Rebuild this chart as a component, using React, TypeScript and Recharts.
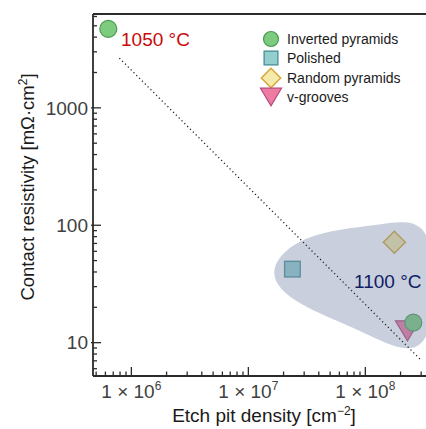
import { ScatterChart, Scatter, XAxis, YAxis, ReferenceLine, Legend } from 'recharts';

const FONT = '"Liberation Sans", Arial, Helvetica, sans-serif';

// Etch pit density [cm^-2] vs. contact resistivity [mOhm cm^2]
const SERIES_NAMES = ['Inverted pyramids', 'Polished', 'Random pyramids', 'v-grooves'];

const INVERTED_PYRAMIDS = [
  { x: 6.35e5, y: 4700 },
  { x: 2.57e8, y: 14.8 },
];
const POLISHED = [{ x: 2.38e7, y: 42.3 }];
const RANDOM_PYRAMIDS = [{ x: 1.77e8, y: 71.6 }];
const V_GROOVES = [{ x: 2.29e8, y: 12.6 }];

// dotted guide line (slope -1 in log-log)
const FIT_LINE = [
  { x: 7.9e5, y: 2650 },
  { x: 2.95e8, y: 7.2 },
];

// outline of the shaded 1100 °C group (closed spline through these)
const GROUP_1100 = [
  { x: 1.32e7, y: 39.4 },
  { x: 2.8e7, y: 86 },
  { x: 1.34e8, y: 100 },
  { x: 3.5e8, y: 120 },
  { x: 4.2e8, y: 28.2 },
  { x: 3.26e8, y: 6.5 },
  { x: 9.06e7, y: 12.9 },
  { x: 2.52e7, y: 21 },
];

const X_DOMAIN = [4.7e5, 3.3e8];
const Y_DOMAIN = [5.2, 6300];

const X_MAJOR = [1e6, 1e7, 1e8];
const X_MINOR = [
  5e5, 6e5, 7e5, 8e5, 9e5,
  2e6, 3e6, 4e6, 5e6, 6e6, 7e6, 8e6, 9e6,
  2e7, 3e7, 4e7, 5e7, 6e7, 7e7, 8e7, 9e7,
  2e8, 3e8,
];
const Y_MAJOR = [10, 100, 1000];
const Y_MINOR = [
  6, 7, 8, 9,
  20, 30, 40, 50, 60, 70, 80, 90,
  200, 300, 400, 500, 600, 700, 800, 900,
  2000, 3000, 4000, 5000, 6000,
];
const X_EXPONENTS = ['6', '7', '8'];

const AXIS_COLOR = '#2b2b2b';
const TICK_TEXT = '#404040';

const STYLES: Record<string, { fill: string; stroke: string }> = {
  'Inverted pyramids': { fill: '#7ccb7e', stroke: '#4c9a55' },
  Polished: { fill: '#94cfd0', stroke: '#4f939a' },
  'Random pyramids': { fill: '#f4eaa9', stroke: '#d6a533' },
  'v-grooves': { fill: '#ee7ba2', stroke: '#b4487a' },
};

function Marker({ name, cx, cy, scale = 1 }: { name: string; cx: number; cy: number; scale?: number }) {
  const s = STYLES[name];
  if (name === 'Inverted pyramids') {
    return <circle cx={cx} cy={cy} r={8.5 * scale} fill={s.fill} stroke={s.stroke} strokeWidth={1.2} />;
  }
  if (name === 'Polished') {
    const h = 7.8 * scale;
    return <rect x={cx - h} y={cy - h} width={2 * h} height={2 * h} fill={s.fill} stroke={s.stroke} strokeWidth={1.4} />;
  }
  if (name === 'Random pyramids') {
    const d = 11 * scale;
    return (
      <polygon
        points={`${cx},${cy - d} ${cx + d},${cy} ${cx},${cy + d} ${cx - d},${cy}`}
        fill={s.fill}
        stroke={s.stroke}
        strokeWidth={1.4}
      />
    );
  }
  const w = 12 * scale;
  const h = 10 * scale;
  return (
    <polygon
      points={`${cx - w},${cy - h} ${cx + w},${cy - h} ${cx},${cy + h}`}
      fill={s.fill}
      stroke={s.stroke}
      strokeWidth={1.2}
    />
  );
}

function XTick({ x, y, payload }: any) {
  const idx = X_MAJOR.indexOf(payload.value);
  const major = idx >= 0;
  return (
    <g>
      <line x1={x} x2={x} y1={y} y2={y - (major ? 9 : 4.5)} stroke={AXIS_COLOR} strokeWidth={1.3} />
      {major && (
        <text x={x} y={y + 22} textAnchor="middle" fontSize={19} fill={TICK_TEXT} fontFamily={FONT}>
          1 × 10
          <tspan dy={-8} fontSize={12}>
            {X_EXPONENTS[idx]}
          </tspan>
        </text>
      )}
    </g>
  );
}

function YTick({ x, y, payload }: any) {
  const major = Y_MAJOR.includes(payload.value);
  return (
    <g>
      <line x1={major ? x - 2 : x} x2={x + (major ? 8 : 4)} y1={y} y2={y} stroke={AXIS_COLOR} strokeWidth={1.3} />
      {major && (
        <text x={x - 5} y={y} dy="0.36em" textAnchor="end" fontSize={19} fill={TICK_TEXT} fontFamily={FONT}>
          {payload.value}
        </text>
      )}
    </g>
  );
}

function LegendBox() {
  return (
    <div style={{ fontFamily: FONT, fontSize: 14, color: '#1a1a1a' }}>
      {SERIES_NAMES.map((name) => (
        <div key={name} style={{ display: 'flex', alignItems: 'center', height: 19.5 }}>
          <svg width={30} height={22} style={{ marginLeft: -2 }}>
            <Marker name={name} cx={17} cy={11} scale={0.88} />
          </svg>
          <span style={{ marginLeft: 3 }}>{name}</span>
        </div>
      ))}
    </div>
  );
}

const noShape = () => <g />;

export default function App() {
  return (
    <div style={{ position: 'absolute', left: 0, top: 0, width: 426, height: 429, overflow: 'hidden', background: '#fff' }}>
      <ScatterChart width={426} height={429} margin={{ top: 14, right: 0, bottom: 0, left: 0 }}>
        <XAxis
          type="number"
          dataKey="x"
          scale="log"
          domain={X_DOMAIN}
          allowDataOverflow
          ticks={[...X_MAJOR, ...X_MINOR]}
          interval={0}
          tickSize={0}
          tickMargin={0}
          tickLine={false}
          tick={<XTick />}
          height={53}
          axisLine={{ stroke: AXIS_COLOR, strokeWidth: 2 }}
        />
        <YAxis
          type="number"
          dataKey="y"
          scale="log"
          domain={Y_DOMAIN}
          allowDataOverflow
          ticks={[...Y_MAJOR, ...Y_MINOR]}
          interval={0}
          tickSize={0}
          tickMargin={0}
          tickLine={false}
          tick={<YTick />}
          width={93}
          axisLine={{ stroke: AXIS_COLOR, strokeWidth: 1.8 }}
        />
        <ReferenceLine y={Y_DOMAIN[1]} ifOverflow="visible" stroke={AXIS_COLOR} strokeWidth={1.8} />
        <Scatter
          name="v-grooves"
          data={V_GROOVES}
          isAnimationActive={false}
          shape={(p: any) => <Marker name="v-grooves" cx={p.cx} cy={p.cy} />}
        />
        <Scatter
          name="Inverted pyramids"
          data={INVERTED_PYRAMIDS}
          isAnimationActive={false}
          shape={(p: any) => <Marker name="Inverted pyramids" cx={p.cx} cy={p.cy} />}
        />
        <Scatter
          name="Polished"
          data={POLISHED}
          isAnimationActive={false}
          shape={(p: any) => <Marker name="Polished" cx={p.cx} cy={p.cy} />}
        />
        <Scatter
          name="Random pyramids"
          data={RANDOM_PYRAMIDS}
          isAnimationActive={false}
          shape={(p: any) => <Marker name="Random pyramids" cx={p.cx} cy={p.cy} />}
        />
        <Scatter
          name="group-1100"
          data={GROUP_1100}
          isAnimationActive={false}
          legendType="none"
          shape={noShape}
          line={{ fill: '#7886a8', fillOpacity: 0.4, stroke: 'none' }}
          lineType="joint"
          lineJointType="basisClosed"
        />
        <Scatter
          name="fit"
          data={FIT_LINE}
          isAnimationActive={false}
          legendType="none"
          shape={noShape}
          line={{ stroke: '#222', strokeWidth: 1.3, strokeDasharray: '1.2 2.8', fill: 'none' }}
          lineType="joint"
        />
        <Legend
          layout="vertical"
          align="center"
          verticalAlign="middle"
          content={() => <LegendBox />}
          wrapperStyle={{ left: 256, top: 29, width: 170 }}
        />
      </ScatterChart>

      <div style={{ position: 'absolute', left: 121, top: 30, fontFamily: FONT, fontSize: 19, lineHeight: '19px', color: '#c80a0a' }}>
        1050 °C
      </div>
      <div style={{ position: 'absolute', left: 354, top: 272, fontFamily: FONT, fontSize: 19, lineHeight: '19px', color: '#0e1d66' }}>
        1100 °C
      </div>

      <div
        style={{
          position: 'absolute',
          left: 28 - 150,
          top: 187 - 11,
          width: 300,
          height: 22,
          lineHeight: '22px',
          textAlign: 'center',
          transform: 'rotate(-90deg)',
          fontFamily: FONT,
          fontSize: 18.5,
          color: '#1a1a1a',
          whiteSpace: 'nowrap',
        }}
      >
        Contact resistivity [mΩ·cm<span style={{ position: 'relative', top: -7, fontSize: 12 }}>2</span>]
      </div>
      <div
        style={{
          position: 'absolute',
          left: 264 - 150,
          top: 405,
          width: 300,
          height: 22,
          lineHeight: '22px',
          textAlign: 'center',
          fontFamily: FONT,
          fontSize: 19,
          color: '#1a1a1a',
          whiteSpace: 'nowrap',
        }}
      >
        Etch pit density [cm<span style={{ position: 'relative', top: -7, fontSize: 12 }}>−2</span>]
      </div>
    </div>
  );
}
